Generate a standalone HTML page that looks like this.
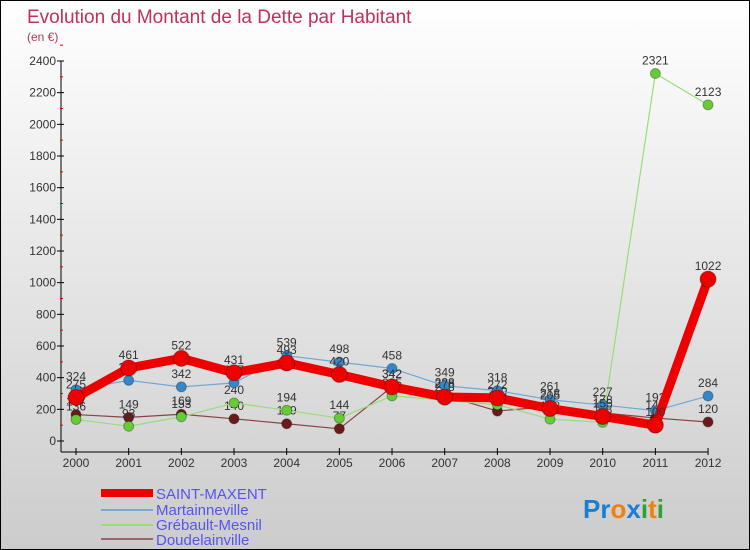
<!DOCTYPE html>
<html><head><meta charset="utf-8"><style>
body{margin:0;}
#wrap{width:748px;height:548px;border:1px solid #000;background:linear-gradient(#fff,#ccc);position:relative;overflow:hidden;font-family:"Liberation Sans",sans-serif;}
svg{position:absolute;left:0;top:0;}
</style></head><body>
<div id="wrap">
<svg id="c" width="750" height="550">
<text x="26" y="22" font-size="19" fill="#c0305a">Evolution du Montant de la Dette par Habitant</text>
<text x="26" y="40" font-size="12" fill="#c0305a">(en €)</text>
<line x1="60" y1="60" x2="60" y2="451" stroke="#000"/>
<line x1="60" y1="451" x2="707" y2="451" stroke="#000"/>
<g id="ax"></g><g id="series"></g>
<g font-size="15" fill="#5555ee">
<rect x="100" y="488" width="52" height="8" fill="#e00"/>
<text x="155" y="498">SAINT-MAXENT</text>
<line x1="100" y1="509" x2="152" y2="509" stroke="#7aa8cc" stroke-width="2"/>
<text x="155" y="514">Martainneville</text>
<line x1="100" y1="524" x2="152" y2="524" stroke="#99dd77" stroke-width="2"/>
<text x="155" y="529">Grébault-Mesnil</text>
<line x1="100" y1="538" x2="152" y2="538" stroke="#996666" stroke-width="2"/>
<text x="155" y="544">Doudelainville</text>
</g>
<text x="582" y="517" font-size="26" font-weight="bold"><tspan fill="#1a7fd0">Pr</tspan><tspan fill="#f08010">o</tspan><tspan fill="#1a7fd0">x</tspan><tspan fill="#30a030">i</tspan><tspan fill="#f08010">t</tspan><tspan fill="#30a030">i</tspan></text>
</svg></div>
<script>
const years=[2000,2001,2002,2003,2004,2005,2006,2007,2008,2009,2010,2011,2012];
const yTicks=[0,200,400,600,800,1000,1200,1400,1600,1800,2000,2200,2400];
const saintMaxent=[275,461,522,431,493,420,342,278,272,205,155,100,1022];
const martainneville=[324,383,342,367,539,498,458,349,318,261,227,192,284];
const grebault=[136,93,153,240,194,144,285,258,229,138,118,2321,2123];
const doudelainville=[167,149,169,140,109,77,342,288,189,218,178,145,120];
const X=i=>75+i*52.67, Y=v=>440-v*0.15833;
const NS="http://www.w3.org/2000/svg";
function mk(t,a,p){const e=document.createElementNS(NS,t);for(const k in a)e.setAttribute(k,a[k]);p.appendChild(e);return e;}
const ax=document.getElementById('ax');
yTicks.forEach(v=>{
 const l=mk('line',{x1:56,x2:63,y1:Y(v),y2:Y(v),stroke:'#000'},ax);
 
 
 const m=mk('line',{x1:59,x2:62,y1:Y(v+100),y2:Y(v+100),stroke:'#e00'},ax);
 
 
 const t=mk('text',{x:55,y:Y(v)+4,'text-anchor':'end','font-size':12,fill:'#333'},ax);t.textContent=v;
 
 
});
years.forEach((y,i)=>{
 const l=mk('line',{x1:X(i),x2:X(i),y1:447,y2:454,stroke:'#000'},ax);
 
 
 const t=mk('text',{x:X(i),y:466,'text-anchor':'middle','font-size':12,fill:'#333'},ax);t.textContent=y;
 
 
});
const sg=document.getElementById('series');
function draw(data,name,color,w,r,dot){
 const g=mk('g',{},sg);
 
 
 const p=mk('polyline',{points:data.map((v,i)=>X(i)+','+Y(v)).join(' '),fill:'none',stroke:color,'stroke-width':w,'stroke-linejoin':'round'},g);
 
 
 data.forEach((v,i)=>{
  const c=mk('circle',{cx:X(i),cy:Y(v),r:r,fill:dot,stroke:'rgba(0,0,0,0.3)'},g);
  
  
  const t=mk('text',{x:X(i),y:Y(v)-9,'text-anchor':'middle','font-size':12,fill:'#333'},g);t.textContent=v;
  
  
 });
}
draw(doudelainville,'doudelainville','#884444',1.2,5,'#6b1a1a');
draw(grebault,'grebault-mesnil','#99dd77',1.2,5,'#66cc33');
draw(martainneville,'martainneville','#6fa8d8',1.2,5,'#3388cc');
draw(saintMaxent,'saint-maxent','#ee0000',9,8,'#ee0000');
</script>
</body></html>
